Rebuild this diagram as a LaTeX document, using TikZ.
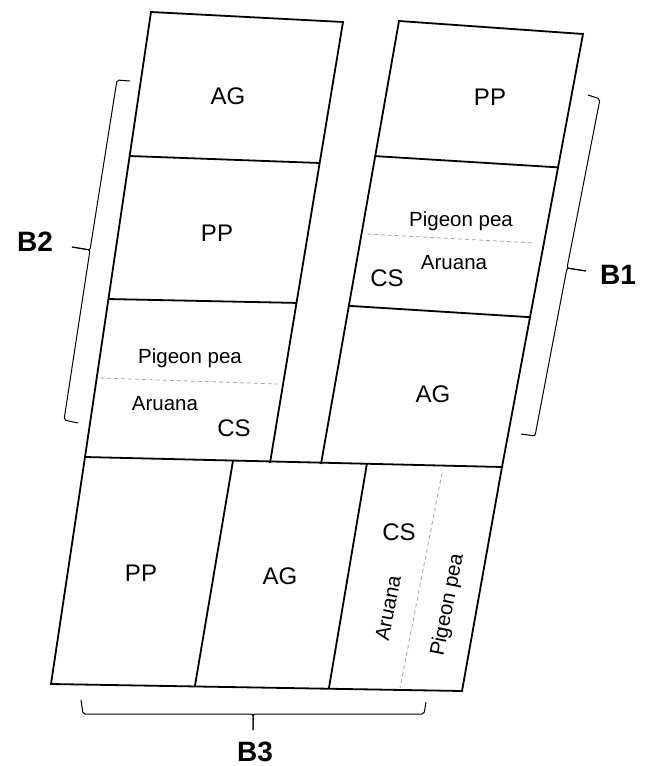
\documentclass[tikz,border=0pt]{standalone}
\usepackage{fontspec}
\setmainfont{Liberation Sans}
\usetikzlibrary{calc}
\begin{document}
\begin{tikzpicture}[x=1bp,y=-1bp,
  plot/.style={line width=1.8bp,line join=miter},
  split/.style={line width=0.8bp,draw=gray!70,dash pattern=on 4bp off 3bp},
  brace/.style={line width=1bp,rounded corners=2bp},
  big/.style={font=\fontsize{24bp}{28bp}\selectfont,inner sep=0pt},
  small/.style={font=\fontsize{20.5bp}{24bp}\selectfont,inner sep=0pt},
  blab/.style={font=\fontsize{28bp}{32bp}\selectfont\bfseries,inner sep=0pt}]
\useasboundingbox (0,0) rectangle (646,766);
% left column (B2)
\coordinate (L1) at (151,12);
\coordinate (L2) at (343,22);
\coordinate (L3) at (270,463);
\coordinate (L4) at (85,457);
% right column (B1)
\coordinate (R1) at (399,21);
\coordinate (R2) at (583,34);
\coordinate (R3) at (502,467);
\coordinate (R4) at (321,464);
% lower block (B3)
\coordinate (Q1) at (51,684);
\coordinate (Q2) at (462,691);
% columns
\draw[plot] (L4) -- (L1) -- (L2) -- (L3);
\draw[plot] (R4) -- (R1) -- (R2) -- (R3);
\draw[plot] ($(L1)!0.3236!(L4)$) -- ($(L2)!0.3197!(L3)$);
\draw[plot] ($(L1)!0.645!(L4)$) -- ($(L2)!0.637!(L3)$);
\draw[plot] ($(R1)!0.305!(R4)$) -- ($(R2)!0.308!(R3)$);
\draw[plot] ($(R1)!0.643!(R4)$) -- ($(R2)!0.654!(R3)$);
% lower block
\draw[plot] (L4) -- (R3) -- (Q2) -- (Q1) -- cycle;
\draw[plot] ($(L4)!0.355!(R3)$) -- ($(Q1)!0.350!(Q2)$);
\draw[plot] ($(L4)!0.676!(R3)$) -- ($(Q1)!0.676!(Q2)$);
% dashed splits
\coordinate (d1a) at (100,378); \coordinate (d1b) at (278,384);
\coordinate (d2a) at (367,234); \coordinate (d2b) at (535,243);
\coordinate (d3a) at (442,473); \coordinate (d3b) at (400,688);
\draw[split] (d1a) -- (d1b);
\draw[split] (d2a) -- (d2b);
\draw[split] (d3a) -- (d3b);
% brackets
\coordinate (b2t) at (130,81); \coordinate (b2s) at (117,80);
\coordinate (b2m) at (90,250); \coordinate (b2p) at (72,247);
\coordinate (b2u) at (64,420); \coordinate (b2e) at (78,423);
\draw[brace] (b2t) -- (b2s) -- (b2m) -- (b2p);
\draw[brace] (b2p) -- (b2m) -- (b2u) -- (b2e);
\coordinate (b1t) at (588,95); \coordinate (b1s) at (600,99);
\coordinate (b1m) at (567,268); \coordinate (b1p) at (586,271);
\coordinate (b1u) at (535,436); \coordinate (b1e) at (521,434);
\draw[brace] (b1t) -- (b1s) -- (b1m) -- (b1p);
\draw[brace] (b1p) -- (b1m) -- (b1u) -- (b1e);
\coordinate (b3l) at (81,700); \coordinate (b3a) at (83,714);
\coordinate (b3m) at (253,714); \coordinate (b3p) at (253,730);
\coordinate (b3b) at (424,714); \coordinate (b3r) at (426,702);
\draw[brace] (b3l) -- (b3a) -- (b3m) -- (b3p);
\draw[brace] (b3p) -- (b3m) -- (b3b) -- (b3r);
% labels left column
\node[big] (lag) at (228,96) {AG};
\node[big] (lpp) at (217,233) {PP};
\node[small] (lpig) at (190,358) {Pigeon pea};
\node[small] (laru) at (165,404) {Aruana};
\node[big] (lcs) at (234,428) {CS};
% labels right column
\node[big] (rpp) at (490,97) {PP};
\node[small] (rpig) at (461,221) {Pigeon pea};
\node[small] (raru) at (454,263) {Aruana};
\node[big] (rcs) at (387,278) {CS};
\node[big] (rag) at (433,394) {AG};
% labels lower block
\node[big] (qpp) at (141,573) {PP};
\node[big] (qag) at (280,576) {AG};
\node[big] (qcs) at (399,532) {CS};
\node[small,rotate=79] (qaru) at (388,608) {Aruana};
\node[small,rotate=79] (qpig) at (448,605) {Pigeon pea};
% block labels
\node[blab] (B1) at (618,275) {B1};
\node[blab] (B2) at (35,242) {B2};
\node[blab] (B3) at (255,752) {B3};
\end{tikzpicture}
\end{document}
